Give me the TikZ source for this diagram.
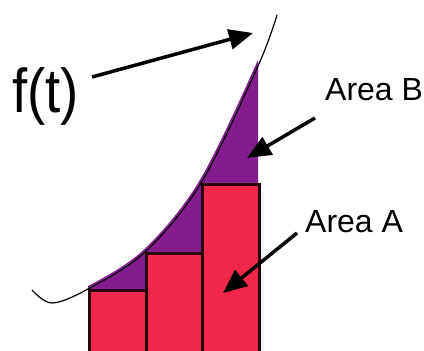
\documentclass[tikz,border=0pt]{standalone}
\usepackage{fontspec}
\setmainfont{Liberation Sans}
\usetikzlibrary{arrows.meta}
\definecolor{barred}{RGB}{240,38,74}
\definecolor{areapurple}{RGB}{132,28,142}
\definecolor{edge}{RGB}{40,0,10}
\begin{document}
\begin{tikzpicture}[x=1pt,y=-1pt,
  bar/.style={fill=barred, draw=edge, line width=2.5pt},
  pointer/.style={line width=3.5pt, -{Triangle[length=24pt,width=20pt]}},
  lbl/.style={inner sep=0pt, anchor=base west},
  curveline/.style={line width=1.2pt, black}]
\useasboundingbox (0,0) rectangle (424,351);
\fill[white] (0,0) rectangle (424,351);
\clip (0,0) rectangle (424,351);
% purple area under the curve
\begin{scope}
  \clip (88,0) rectangle (258,351);
  \fill[areapurple] plot[smooth,tension=0.55] coordinates {(32,290) (52,303) (88,289) (145,252) (201,183) (258,66) (277,15)} -- (300,360) -- (20,360) -- cycle;
  \draw[areapurple, line width=5pt] plot[smooth,tension=0.55] coordinates {(32,290) (52,303) (88,289) (145,252) (201,183) (258,66) (277,15)};
\end{scope}
% bars
\node[bar, draw, inner sep=0pt, minimum width=57pt, minimum height=70pt, anchor=north west] (r1) at (88,289) {};
\node[bar, draw, inner sep=0pt, minimum width=56pt, minimum height=107pt, anchor=north west] (r2) at (145,252) {};
\node[bar, draw, inner sep=0pt, minimum width=57pt, minimum height=176pt, anchor=north west] (r3) at (201,183) {};
% curve
\draw[curveline] plot[smooth,tension=0.55] coordinates {(32,290) (52,303) (88,289) (145,252) (201,183) (258,66) (277,15)};
% labels
\node[lbl, font=\fontsize{62}{70}\selectfont, xscale=0.88] (ft) at (12,112) {f(t)};
\node[lbl, font=\fontsize{32}{38}\selectfont] (ab) at (325,100) {Area B};
\node[lbl, font=\fontsize{32}{38}\selectfont] (aa) at (305,232) {Area A};
% arrows
\coordinate (ftstart) at (92,77);
\coordinate (ftend) at (253,33);
\coordinate (abstart) at (315,118);
\coordinate (abend) at (247,158);
\coordinate (aastart) at (297,233);
\coordinate (aaend) at (223,293);
\draw[pointer] (ftstart) -- (ftend);
\draw[pointer] (abstart) -- (abend);
\draw[pointer] (aastart) -- (aaend);
\end{tikzpicture}
\end{document}
